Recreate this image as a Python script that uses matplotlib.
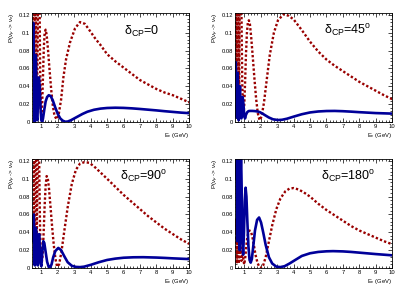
import matplotlib
matplotlib.use("Agg")
from matplotlib import pyplot as plt
from matplotlib.ticker import MultipleLocator

plt.rcParams['font.family'] = ['Liberation Sans', 'DejaVu Sans']
plt.rcParams['mathtext.fontset'] = 'custom'
plt.rcParams['mathtext.rm'] = 'Liberation Sans'
plt.rcParams['mathtext.it'] = 'Liberation Sans:italic'
plt.rcParams['mathtext.bf'] = 'Liberation Sans:bold'

# ---- delta_CP = 0 ----
e_b0 = [0.45, 0.48, 0.51, 0.54, 0.57, 0.60, 0.63, 0.66, 0.69, 0.72, 0.76, 0.80, 0.85, 0.90, 0.95, 1.00,
        1.05, 1.10, 1.18, 1.26, 1.35, 1.45, 1.57, 1.70, 1.85, 2.00, 2.15, 2.30, 2.45, 2.60, 2.80, 3.00,
        3.25, 3.50, 3.80, 4.20, 4.60, 5.00, 5.50, 6.00, 6.50, 7.00, 7.50, 8.00, 8.50, 9.00, 9.50, 10.0]
p_b0 = [0.070, 0.100, 0.111, 0.080, 0.020, 0.000, 0.040, 0.075, 0.050, 0.005, 0.002, 0.030, 0.050, 0.040,
        0.015, 0.002, 0.000, 0.004, 0.014, 0.023, 0.028, 0.030, 0.029, 0.024, 0.016, 0.009, 0.004, 0.0015,
        0.0003, 0.0005, 0.002, 0.004, 0.0065, 0.009, 0.0115, 0.0137, 0.0150, 0.0157, 0.0160, 0.0158, 0.0153,
        0.0146, 0.0138, 0.0130, 0.0121, 0.0113, 0.0105, 0.0099]
e_r0 = [0.45, 0.48, 0.51, 0.54, 0.57, 0.60, 0.63, 0.66, 0.69, 0.72, 0.76, 0.80, 0.84, 0.88, 0.92, 0.96,
        1.00, 1.05, 1.10, 1.15, 1.20, 1.26, 1.32, 1.40, 1.50, 1.60, 1.70, 1.80, 1.93, 2.05, 2.20, 2.34,
        2.50, 2.74, 3.05, 3.35, 3.65, 3.96, 4.30, 4.57, 5.00, 5.50, 6.00, 6.50, 7.00, 7.50, 8.00, 8.50,
        9.00, 9.50, 10.0]
p_r0 = [0.20, 0.26, 0.15, 0.03, 0.02, 0.14, 0.26, 0.22, 0.10, 0.02, 0.06, 0.18, 0.22, 0.16, 0.07, 0.015,
        0.004, 0.02, 0.052, 0.083, 0.100, 0.1035, 0.098, 0.082, 0.058, 0.036, 0.018, 0.007, 0.003, 0.008,
        0.025, 0.050, 0.070, 0.089, 0.105, 0.112, 0.110, 0.102, 0.093, 0.087, 0.076, 0.068, 0.061, 0.054,
        0.047, 0.042, 0.037, 0.033, 0.030, 0.026, 0.022]

# ---- delta_CP = 45 ----
e_b45 = [0.45, 0.48, 0.51, 0.54, 0.57, 0.60, 0.63, 0.66, 0.70, 0.74, 0.78, 0.82, 0.86, 0.90, 0.95, 1.00,
         1.05, 1.10, 1.18, 1.26, 1.35, 1.50, 1.65, 1.80, 1.95, 2.10, 2.30, 2.50, 2.75, 3.05, 3.30, 3.60,
         4.00, 4.50, 5.00, 5.50, 6.00, 6.50, 7.00, 7.50, 8.00, 8.50, 9.00, 9.50, 10.0]
p_b45 = [0.050, 0.067, 0.040, 0.005, 0.030, 0.055, 0.020, 0.002, 0.025, 0.040, 0.008, 0.004, 0.020, 0.028,
         0.020, 0.006, 0.004, 0.008, 0.011, 0.0122, 0.0124, 0.0124, 0.0122, 0.0118, 0.011, 0.0095, 0.0072,
         0.005, 0.003, 0.0022, 0.0025, 0.0037, 0.006, 0.0087, 0.0107, 0.0118, 0.0123, 0.0124, 0.0121,
         0.0116, 0.011, 0.0105, 0.0100, 0.0097, 0.0094]
e_r45 = [0.45, 0.48, 0.51, 0.54, 0.57, 0.60, 0.63, 0.66, 0.69, 0.72, 0.76, 0.80, 0.84, 0.88, 0.92, 0.96,
         1.00, 1.05, 1.10, 1.16, 1.22, 1.28, 1.34, 1.42, 1.52, 1.62, 1.72, 1.82, 1.93, 2.05, 2.20, 2.35,
         2.55, 2.80, 3.05, 3.40, 3.70, 4.00, 4.50, 5.00, 5.50, 6.00, 6.50, 7.00, 7.50, 8.00, 8.50, 9.00,
         9.50, 10.0]
p_r45 = [0.25, 0.15, 0.04, 0.05, 0.18, 0.27, 0.20, 0.06, 0.04, 0.17, 0.26, 0.20, 0.10, 0.04, 0.015, 0.01,
         0.02, 0.045, 0.075, 0.100, 0.112, 0.114, 0.110, 0.095, 0.072, 0.048, 0.026, 0.010, 0.002, 0.006,
         0.022, 0.045, 0.075, 0.100, 0.114, 0.121, 0.119, 0.115, 0.103, 0.090, 0.079, 0.070, 0.063, 0.057,
         0.051, 0.045, 0.040, 0.035, 0.030, 0.0255]

# ---- delta_CP = 90 ----
e_b90 = [0.45, 0.48, 0.51, 0.54, 0.57, 0.60, 0.63, 0.66, 0.70, 0.74, 0.78, 0.82, 0.86, 0.90, 0.95, 1.00,
         1.06, 1.12, 1.18, 1.26, 1.35, 1.45, 1.53, 1.62, 1.72, 1.85, 2.03, 2.20, 2.40, 2.60, 2.85, 3.10,
         3.35, 3.60, 4.00, 4.50, 5.00, 5.50, 6.00, 6.60, 7.20, 8.00, 8.50, 9.00, 9.50, 10.0]
p_b90 = [0.030, 0.045, 0.058, 0.060, 0.030, 0.003, 0.025, 0.045, 0.040, 0.010, 0.003, 0.020, 0.038, 0.025,
         0.005, 0.002, 0.018, 0.030, 0.028, 0.018, 0.007, 0.001, 0.0003, 0.004, 0.012, 0.019, 0.0225, 0.020,
         0.013, 0.0065, 0.0025, 0.0012, 0.0010, 0.0015, 0.0035, 0.0065, 0.009, 0.0105, 0.0115, 0.012,
         0.0121, 0.0117, 0.0113, 0.0108, 0.0104, 0.0100]
e_r90 = [0.45, 0.48, 0.51, 0.54, 0.57, 0.60, 0.63, 0.66, 0.69, 0.72, 0.76, 0.80, 0.84, 0.88, 0.92, 0.97,
         1.02, 1.08, 1.14, 1.20, 1.26, 1.32, 1.38, 1.46, 1.56, 1.66, 1.76, 1.86, 1.96, 2.08, 2.22, 2.40,
         2.60, 2.85, 3.10, 3.35, 3.60, 3.90, 4.20, 4.60, 5.00, 5.50, 6.00, 6.50, 7.00, 7.50, 8.00, 8.50,
         9.00, 9.50, 10.0]
p_r90 = [0.18, 0.27, 0.20, 0.06, 0.04, 0.16, 0.26, 0.21, 0.08, 0.03, 0.10, 0.20, 0.17, 0.10, 0.045, 0.012,
         0.005, 0.015, 0.040, 0.070, 0.092, 0.103, 0.102, 0.090, 0.068, 0.045, 0.025, 0.010, 0.0015, 0.004,
         0.018, 0.042, 0.068, 0.094, 0.110, 0.117, 0.1185, 0.118, 0.114, 0.107, 0.100, 0.091, 0.082, 0.074,
         0.066, 0.058, 0.051, 0.044, 0.038, 0.032, 0.027]

# ---- delta_CP = 180 ----
e_b180 = [0.45, 0.48, 0.51, 0.54, 0.57, 0.60, 0.63, 0.66, 0.69, 0.72, 0.76, 0.80, 0.84, 0.88, 0.93, 0.98,
          1.03, 1.08, 1.13, 1.18, 1.25, 1.32, 1.39, 1.46, 1.55, 1.65, 1.78, 1.90, 2.02, 2.15, 2.30, 2.50,
          2.70, 2.95, 3.19, 3.45, 3.75, 4.10, 4.50, 5.00, 5.50, 6.00, 6.40, 7.00, 7.50, 8.00, 8.50, 9.00,
          9.50, 10.0]
p_b180 = [0.10, 0.16, 0.20, 0.10, 0.03, 0.09, 0.17, 0.14, 0.05, 0.02, 0.09, 0.13, 0.09, 0.03, 0.015, 0.04,
          0.075, 0.090, 0.080, 0.055, 0.025, 0.009, 0.006, 0.010, 0.025, 0.042, 0.054, 0.0566, 0.051, 0.040,
          0.026, 0.012, 0.005, 0.0015, 0.001, 0.002, 0.005, 0.009, 0.0135, 0.0165, 0.018, 0.0187, 0.0189,
          0.0186, 0.018, 0.0172, 0.0164, 0.0156, 0.0149, 0.0142]
e_r180 = [0.45, 0.48, 0.51, 0.54, 0.57, 0.60, 0.63, 0.66, 0.70, 0.74, 0.78, 0.82, 0.86, 0.90, 0.95, 1.00,
          1.06, 1.12, 1.18, 1.25, 1.32, 1.40, 1.48, 1.58, 1.68, 1.80, 1.92, 2.05, 2.15, 2.30, 2.50, 2.70,
          2.95, 3.20, 3.50, 3.75, 4.00, 4.30, 4.60, 5.00, 5.50, 6.00, 6.50, 7.00, 7.50, 8.00, 8.50, 9.00,
          9.50, 10.0]
p_r180 = [0.040, 0.055, 0.030, 0.005, 0.025, 0.045, 0.030, 0.005, 0.015, 0.040, 0.030, 0.008, 0.010, 0.022,
          0.008, 0.004, 0.012, 0.024, 0.034, 0.040, 0.042, 0.041, 0.036, 0.026, 0.015, 0.006, 0.001, 0.000,
          0.003, 0.012, 0.030, 0.048, 0.066, 0.078, 0.086, 0.089, 0.0896, 0.088, 0.085, 0.080, 0.072, 0.065,
          0.059, 0.053, 0.047, 0.042, 0.038, 0.034, 0.030, 0.0266]

labels = [r'$\mathrm{\delta_{CP}}$=0', r'$\mathrm{\delta_{CP}}$=45$^{\mathrm{o}}$',
          r'$\mathrm{\delta_{CP}}$=90$^{\mathrm{o}}$', r'$\mathrm{\delta_{CP}}$=180$^{\mathrm{o}}$']
label_x = [0.584, 0.563, 0.559, 0.548]

panels = [(e_b0, p_b0, e_r0, p_r0), (e_b45, p_b45, e_r45, p_r45),
          (e_b90, p_b90, e_r90, p_r90), (e_b180, p_b180, e_r180, p_r180)]
rects = [[0.0794, 0.5822, 0.3857, 0.3743], [0.578, 0.5822, 0.3857, 0.3743],
         [0.0794, 0.0822, 0.3857, 0.3743], [0.578, 0.0822, 0.3857, 0.3743]]

fig = plt.figure(figsize=(4.07, 2.92), dpi=100)
for i, (eb, pb, er, pr) in enumerate(panels):
    ax = fig.add_axes(rects[i])
    ax.plot(er, pr, color='#990000', lw=1.7, linestyle=(0, (1, 0.9)), dash_capstyle='butt')
    ax.plot(eb, pb, color='#000099', lw=1.9, solid_joinstyle='round')
    ax.set_xlim(0.45, 10)
    ax.set_ylim(0, 0.1225)
    ax.xaxis.set_major_locator(MultipleLocator(1))
    ax.xaxis.set_minor_locator(MultipleLocator(0.2))
    ax.yaxis.set_major_locator(MultipleLocator(0.02))
    ax.yaxis.set_minor_locator(MultipleLocator(0.004))
    ax.set_yticks([0, 0.02, 0.04, 0.06, 0.08, 0.1, 0.12])
    ax.set_yticklabels(['0', '0.02', '0.04', '0.06', '0.08', '0.1', '0.12'])
    ax.tick_params(which='both', direction='in', top=True, right=True, width=0.5, labelsize=4.2, pad=1.5)
    ax.tick_params(which='major', length=3)
    ax.tick_params(which='minor', length=1.5)
    for s in ax.spines.values():
        s.set_linewidth(0.6)
    ax.text(label_x[i], 0.80, labels[i], transform=ax.transAxes, fontsize=9, ha='left', va='baseline')
    ax.text(1.0, -0.125, r'E$_{\nu}$ (GeV)', transform=ax.transAxes, fontsize=4.2, ha='right', va='center')
    ax.text(-0.125, 1.0, r'P($\nu_{\mu}$ -> $\nu_{e}$)', transform=ax.transAxes, fontsize=4.5,
            rotation=90, ha='center', va='top')

plt.savefig('out.png', dpi=100)
